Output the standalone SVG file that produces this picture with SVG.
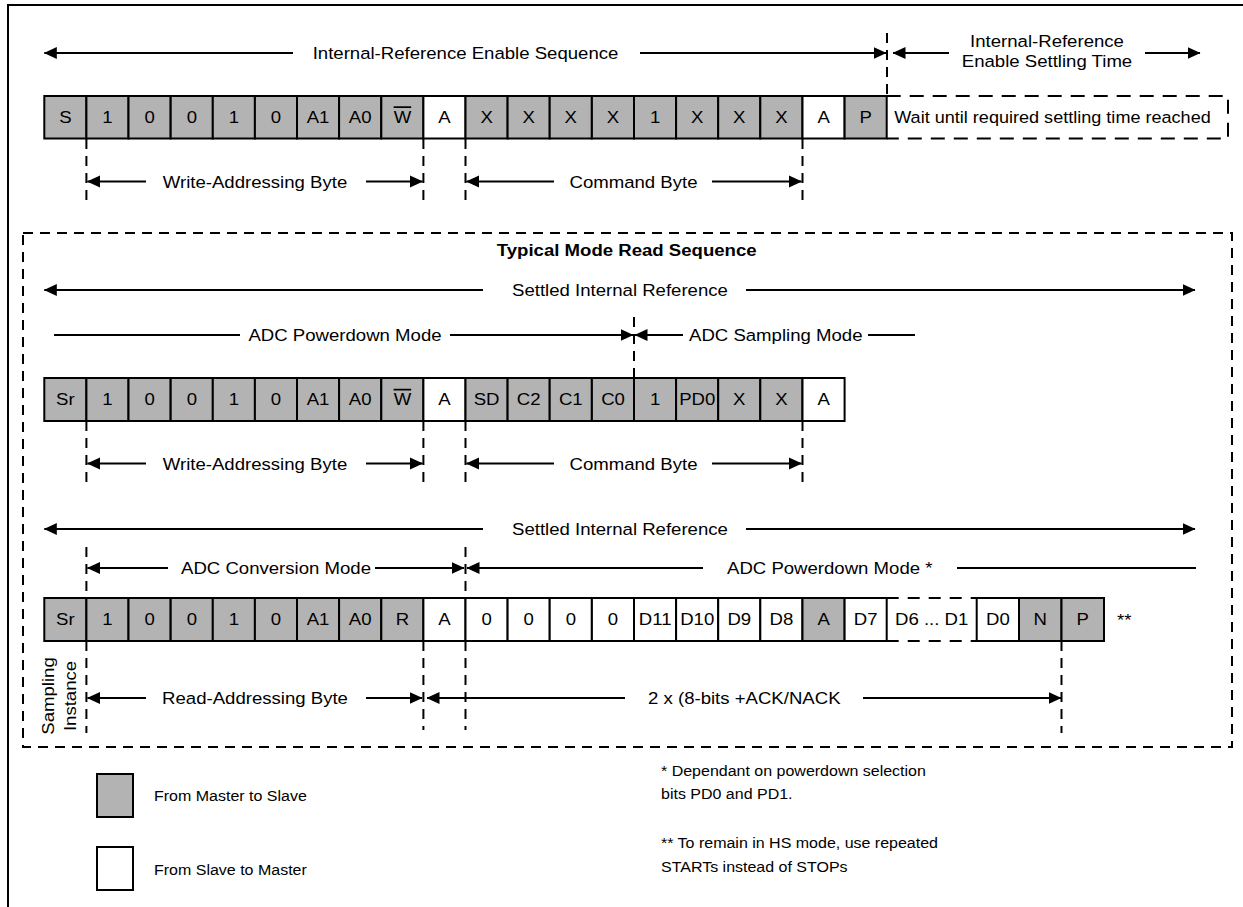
<svg xmlns="http://www.w3.org/2000/svg" width="1243" height="907" viewBox="0 0 1243 907">
<style>
.c{stroke:#000;stroke-width:2}
.g{fill:#b3b3b3}
.w{fill:#fff}
.ln{stroke:#000;stroke-width:2;fill:none}
.ds{stroke:#000;stroke-width:2;fill:none;stroke-dasharray:10 7}
.t{font-family:"Liberation Sans",Arial,Helvetica,sans-serif;font-size:17px;fill:#000}
.s{font-family:"Liberation Sans",Arial,Helvetica,sans-serif;font-size:15.3px;fill:#000}
.b{font-weight:bold}
.m{text-anchor:middle}
.ov{text-decoration:overline}
</style>
<defs>
<marker id="ah" viewBox="0 0 13 13" refX="12.5" refY="6.5" markerWidth="13" markerHeight="13" markerUnits="userSpaceOnUse" orient="auto-start-reverse"><path d="M0,0.5 L13,6.5 L0,12.5 z" fill="#000"/></marker>
</defs>
<rect x="0" y="0" width="1243" height="907" fill="#fff"/>
<rect id="frame" x="8" y="5" width="1250" height="915" class="ln"/>

<!-- Row 1 cells -->
<g id="row1">
<g id="r1-S"><rect x="44.3" y="96" width="42.1" height="42.5" class="c g"/><text class="t m" transform="translate(65.4,122.5) scale(1.094,1)">S</text></g>
<g id="r1-b1"><rect x="86.4" y="96" width="42.1" height="42.5" class="c g"/><text class="t m" transform="translate(107.5,122.5) scale(1.094,1)">1</text></g>
<g id="r1-b2"><rect x="128.5" y="96" width="42.1" height="42.5" class="c g"/><text class="t m" transform="translate(149.6,122.5) scale(1.094,1)">0</text></g>
<g id="r1-b3"><rect x="170.7" y="96" width="42.1" height="42.5" class="c g"/><text class="t m" transform="translate(191.8,122.5) scale(1.094,1)">0</text></g>
<g id="r1-b4"><rect x="212.8" y="96" width="42.1" height="42.5" class="c g"/><text class="t m" transform="translate(233.9,122.5) scale(1.094,1)">1</text></g>
<g id="r1-b5"><rect x="254.9" y="96" width="42.1" height="42.5" class="c g"/><text class="t m" transform="translate(276.0,122.5) scale(1.094,1)">0</text></g>
<g id="r1-A1"><rect x="297.0" y="96" width="42.1" height="42.5" class="c g"/><text class="t m" transform="translate(318.1,122.5) scale(1.094,1)">A1</text></g>
<g id="r1-A0"><rect x="339.1" y="96" width="42.1" height="42.5" class="c g"/><text class="t m" transform="translate(360.2,122.5) scale(1.094,1)">A0</text></g>
<g id="r1-W"><rect x="381.3" y="96" width="42.1" height="42.5" class="c g"/><text class="t m ov" transform="translate(402.4,122.5) scale(1.094,1)">W</text></g>
<g id="r1-A"><rect x="423.4" y="96" width="42.1" height="42.5" class="c w"/><text class="t m" transform="translate(444.5,122.5) scale(1.094,1)">A</text></g>
<g id="r1-x1"><rect x="465.5" y="96" width="42.1" height="42.5" class="c g"/><text class="t m" transform="translate(486.6,122.5) scale(1.094,1)">X</text></g>
<g id="r1-x2"><rect x="507.6" y="96" width="42.1" height="42.5" class="c g"/><text class="t m" transform="translate(528.7,122.5) scale(1.094,1)">X</text></g>
<g id="r1-x3"><rect x="549.7" y="96" width="42.1" height="42.5" class="c g"/><text class="t m" transform="translate(570.8,122.5) scale(1.094,1)">X</text></g>
<g id="r1-x4"><rect x="591.9" y="96" width="42.1" height="42.5" class="c g"/><text class="t m" transform="translate(613.0,122.5) scale(1.094,1)">X</text></g>
<g id="r1-one"><rect x="634.0" y="96" width="42.1" height="42.5" class="c g"/><text class="t m" transform="translate(655.1,122.5) scale(1.094,1)">1</text></g>
<g id="r1-x5"><rect x="676.1" y="96" width="42.1" height="42.5" class="c g"/><text class="t m" transform="translate(697.2,122.5) scale(1.094,1)">X</text></g>
<g id="r1-x6"><rect x="718.2" y="96" width="42.1" height="42.5" class="c g"/><text class="t m" transform="translate(739.3,122.5) scale(1.094,1)">X</text></g>
<g id="r1-x7"><rect x="760.3" y="96" width="42.1" height="42.5" class="c g"/><text class="t m" transform="translate(781.4,122.5) scale(1.094,1)">X</text></g>
<g id="r1-A2"><rect x="802.5" y="96" width="42.1" height="42.5" class="c w"/><text class="t m" transform="translate(823.6,122.5) scale(1.094,1)">A</text></g>
<g id="r1-P"><rect x="844.6" y="96" width="42.1" height="42.5" class="c g"/><text class="t m" transform="translate(865.7,122.5) scale(1.094,1)">P</text></g>
<g id="r1-wait"><path d="M886.7,96 H1228 V138.5 H886.7" class="ds" style="stroke-dasharray:14 9"/><text class="t m" transform="translate(1052.5,122.5) scale(1.063,1)">Wait until required settling time reached</text></g>
</g>

<!-- Read sequence box -->
<g id="readbox">
<rect x="23" y="233" width="1209" height="514" class="ds"/>
<text class="t b m" transform="translate(626.7,256) scale(1.094,1)">Typical Mode Read Sequence</text>
</g>

<!-- Row 2 cells -->
<g id="row2">
<g id="r2-Sr"><rect x="44.3" y="378" width="42.1" height="43" class="c g"/><text class="t m" transform="translate(65.4,405) scale(1.094,1)">Sr</text></g>
<g id="r2-b1"><rect x="86.4" y="378" width="42.1" height="43" class="c g"/><text class="t m" transform="translate(107.5,405) scale(1.094,1)">1</text></g>
<g id="r2-b2"><rect x="128.5" y="378" width="42.1" height="43" class="c g"/><text class="t m" transform="translate(149.6,405) scale(1.094,1)">0</text></g>
<g id="r2-b3"><rect x="170.7" y="378" width="42.1" height="43" class="c g"/><text class="t m" transform="translate(191.8,405) scale(1.094,1)">0</text></g>
<g id="r2-b4"><rect x="212.8" y="378" width="42.1" height="43" class="c g"/><text class="t m" transform="translate(233.9,405) scale(1.094,1)">1</text></g>
<g id="r2-b5"><rect x="254.9" y="378" width="42.1" height="43" class="c g"/><text class="t m" transform="translate(276.0,405) scale(1.094,1)">0</text></g>
<g id="r2-A1"><rect x="297.0" y="378" width="42.1" height="43" class="c g"/><text class="t m" transform="translate(318.1,405) scale(1.094,1)">A1</text></g>
<g id="r2-A0"><rect x="339.1" y="378" width="42.1" height="43" class="c g"/><text class="t m" transform="translate(360.2,405) scale(1.094,1)">A0</text></g>
<g id="r2-W"><rect x="381.3" y="378" width="42.1" height="43" class="c g"/><text class="t m ov" transform="translate(402.4,405) scale(1.094,1)">W</text></g>
<g id="r2-A"><rect x="423.4" y="378" width="42.1" height="43" class="c w"/><text class="t m" transform="translate(444.5,405) scale(1.094,1)">A</text></g>
<g id="r2-SD"><rect x="465.5" y="378" width="42.1" height="43" class="c g"/><text class="t m" transform="translate(486.6,405) scale(1.094,1)">SD</text></g>
<g id="r2-C2"><rect x="507.6" y="378" width="42.1" height="43" class="c g"/><text class="t m" transform="translate(528.7,405) scale(1.094,1)">C2</text></g>
<g id="r2-C1"><rect x="549.7" y="378" width="42.1" height="43" class="c g"/><text class="t m" transform="translate(570.8,405) scale(1.094,1)">C1</text></g>
<g id="r2-C0"><rect x="591.9" y="378" width="42.1" height="43" class="c g"/><text class="t m" transform="translate(613.0,405) scale(1.094,1)">C0</text></g>
<g id="r2-one"><rect x="634.0" y="378" width="42.1" height="43" class="c g"/><text class="t m" transform="translate(655.1,405) scale(1.094,1)">1</text></g>
<g id="r2-PD0"><rect x="676.1" y="378" width="42.1" height="43" class="c g"/><text class="t m" transform="translate(697.2,405) scale(1.094,1)">PD0</text></g>
<g id="r2-x1"><rect x="718.2" y="378" width="42.1" height="43" class="c g"/><text class="t m" transform="translate(739.3,405) scale(1.094,1)">X</text></g>
<g id="r2-x2"><rect x="760.3" y="378" width="42.1" height="43" class="c g"/><text class="t m" transform="translate(781.4,405) scale(1.094,1)">X</text></g>
<g id="r2-A2"><rect x="802.5" y="378" width="42.1" height="43" class="c w"/><text class="t m" transform="translate(823.6,405) scale(1.094,1)">A</text></g>
</g>

<!-- Row 3 cells -->
<g id="row3">
<g id="r3-Sr"><rect x="44.3" y="598" width="42.1" height="43" class="c g"/><text class="t m" transform="translate(65.4,625) scale(1.094,1)">Sr</text></g>
<g id="r3-b1"><rect x="86.4" y="598" width="42.1" height="43" class="c g"/><text class="t m" transform="translate(107.5,625) scale(1.094,1)">1</text></g>
<g id="r3-b2"><rect x="128.5" y="598" width="42.1" height="43" class="c g"/><text class="t m" transform="translate(149.6,625) scale(1.094,1)">0</text></g>
<g id="r3-b3"><rect x="170.7" y="598" width="42.1" height="43" class="c g"/><text class="t m" transform="translate(191.8,625) scale(1.094,1)">0</text></g>
<g id="r3-b4"><rect x="212.8" y="598" width="42.1" height="43" class="c g"/><text class="t m" transform="translate(233.9,625) scale(1.094,1)">1</text></g>
<g id="r3-b5"><rect x="254.9" y="598" width="42.1" height="43" class="c g"/><text class="t m" transform="translate(276.0,625) scale(1.094,1)">0</text></g>
<g id="r3-A1"><rect x="297.0" y="598" width="42.1" height="43" class="c g"/><text class="t m" transform="translate(318.1,625) scale(1.094,1)">A1</text></g>
<g id="r3-A0"><rect x="339.1" y="598" width="42.1" height="43" class="c g"/><text class="t m" transform="translate(360.2,625) scale(1.094,1)">A0</text></g>
<g id="r3-R"><rect x="381.3" y="598" width="42.1" height="43" class="c g"/><text class="t m" transform="translate(402.4,625) scale(1.094,1)">R</text></g>
<g id="r3-A"><rect x="423.4" y="598" width="42.1" height="43" class="c w"/><text class="t m" transform="translate(444.5,625) scale(1.094,1)">A</text></g>
<g id="r3-z1"><rect x="465.5" y="598" width="42.1" height="43" class="c w"/><text class="t m" transform="translate(486.6,625) scale(1.094,1)">0</text></g>
<g id="r3-z2"><rect x="507.6" y="598" width="42.1" height="43" class="c w"/><text class="t m" transform="translate(528.7,625) scale(1.094,1)">0</text></g>
<g id="r3-z3"><rect x="549.7" y="598" width="42.1" height="43" class="c w"/><text class="t m" transform="translate(570.8,625) scale(1.094,1)">0</text></g>
<g id="r3-z4"><rect x="591.9" y="598" width="42.1" height="43" class="c w"/><text class="t m" transform="translate(613.0,625) scale(1.094,1)">0</text></g>
<g id="r3-D11"><rect x="634.0" y="598" width="42.1" height="43" class="c w"/><text class="t m" transform="translate(655.1,625) scale(1.094,1)">D11</text></g>
<g id="r3-D10"><rect x="676.1" y="598" width="42.1" height="43" class="c w"/><text class="t m" transform="translate(697.2,625) scale(1.094,1)">D10</text></g>
<g id="r3-D9"><rect x="718.2" y="598" width="42.1" height="43" class="c w"/><text class="t m" transform="translate(739.3,625) scale(1.094,1)">D9</text></g>
<g id="r3-D8"><rect x="760.3" y="598" width="42.1" height="43" class="c w"/><text class="t m" transform="translate(781.4,625) scale(1.094,1)">D8</text></g>
<g id="r3-A2"><rect x="802.5" y="598" width="42.1" height="43" class="c g"/><text class="t m" transform="translate(823.6,625) scale(1.094,1)">A</text></g>
<g id="r3-D7"><rect x="844.6" y="598" width="42.1" height="43" class="c w"/><text class="t m" transform="translate(865.7,625) scale(1.094,1)">D7</text></g>
<g id="r3-D6D1"><path d="M886.7,598 H976.7 M886.7,641 H976.7" class="ds" style="stroke-dasharray:12 9"/><text class="t m" transform="translate(931.7,625) scale(1.094,1)">D6 ... D1</text></g>
<g id="r3-D0"><rect x="976.7" y="598" width="42.3" height="43" class="c w"/><text class="t m" transform="translate(997.9,625) scale(1.094,1)">D0</text></g>
<g id="r3-N"><rect x="1019" y="598" width="42.5" height="43" class="c g"/><text class="t m" transform="translate(1040.3,625) scale(1.094,1)">N</text></g>
<g id="r3-P"><rect x="1061.5" y="598" width="42.5" height="43" class="c g"/><text class="t m" transform="translate(1082.8,625) scale(1.094,1)">P</text></g>
<text id="r3-note" class="t" transform="translate(1117,625.5) scale(1.094,1)">**</text>
</g>

<!-- Connectors: arrows, dimension lines, guides -->
<g id="connectors">
<line x1="44.3" y1="53" x2="293" y2="53" class="ln" marker-start="url(#ah)"/>
<line x1="640" y1="53" x2="886" y2="53" class="ln" marker-end="url(#ah)"/>
<line x1="887" y1="33" x2="887" y2="96" class="ds"/>
<line x1="893" y1="53" x2="949" y2="53" class="ln" marker-start="url(#ah)"/>
<line x1="1145" y1="53" x2="1200" y2="53" class="ln" marker-end="url(#ah)"/>
<line x1="86.4" y1="139" x2="86.4" y2="201" class="ds"/>
<line x1="423.4" y1="139" x2="423.4" y2="201" class="ds"/>
<line x1="465.5" y1="139" x2="465.5" y2="201" class="ds"/>
<line x1="802.5" y1="139" x2="802.5" y2="201" class="ds"/>
<line x1="87.5" y1="181.5" x2="146" y2="181.5" class="ln" marker-start="url(#ah)"/>
<line x1="366" y1="181.5" x2="422.5" y2="181.5" class="ln" marker-end="url(#ah)"/>
<line x1="466.5" y1="181.5" x2="554" y2="181.5" class="ln" marker-start="url(#ah)"/>
<line x1="712" y1="181.5" x2="801.5" y2="181.5" class="ln" marker-end="url(#ah)"/>
<line x1="44.3" y1="290" x2="483" y2="290" class="ln" marker-start="url(#ah)"/>
<line x1="746" y1="290" x2="1195" y2="290" class="ln" marker-end="url(#ah)"/>
<line x1="54" y1="335" x2="240" y2="335" class="ln"/>
<line x1="450" y1="335" x2="633" y2="335" class="ln" marker-end="url(#ah)"/>
<line x1="634" y1="317" x2="634" y2="378" class="ds"/>
<line x1="635" y1="335" x2="683" y2="335" class="ln" marker-start="url(#ah)"/>
<line x1="868" y1="335" x2="915" y2="335" class="ln"/>
<line x1="86.4" y1="421" x2="86.4" y2="483" class="ds"/>
<line x1="423.4" y1="421" x2="423.4" y2="483" class="ds"/>
<line x1="465.5" y1="421" x2="465.5" y2="483" class="ds"/>
<line x1="802.5" y1="421" x2="802.5" y2="483" class="ds"/>
<line x1="87.5" y1="463.5" x2="146" y2="463.5" class="ln" marker-start="url(#ah)"/>
<line x1="366" y1="463.5" x2="422.5" y2="463.5" class="ln" marker-end="url(#ah)"/>
<line x1="466.5" y1="463.5" x2="554" y2="463.5" class="ln" marker-start="url(#ah)"/>
<line x1="712" y1="463.5" x2="801.5" y2="463.5" class="ln" marker-end="url(#ah)"/>
<line x1="44.3" y1="529" x2="483" y2="529" class="ln" marker-start="url(#ah)"/>
<line x1="746" y1="529" x2="1195" y2="529" class="ln" marker-end="url(#ah)"/>
<line x1="86.4" y1="547" x2="86.4" y2="598" class="ds"/>
<line x1="465.5" y1="547" x2="465.5" y2="598" class="ds"/>
<line x1="87.5" y1="568" x2="168" y2="568" class="ln" marker-start="url(#ah)"/>
<line x1="375" y1="568" x2="464" y2="568" class="ln" marker-end="url(#ah)"/>
<line x1="467" y1="568" x2="703" y2="568" class="ln" marker-start="url(#ah)"/>
<line x1="957" y1="568" x2="1196" y2="568" class="ln"/>
<line x1="86.4" y1="641" x2="86.4" y2="733" class="ds"/>
<line x1="423.4" y1="641" x2="423.4" y2="730" class="ds"/>
<line x1="465.5" y1="641" x2="465.5" y2="730" class="ds"/>
<line x1="1061.5" y1="641" x2="1061.5" y2="733" class="ds"/>
<line x1="87.5" y1="698" x2="146" y2="698" class="ln" marker-start="url(#ah)"/>
<line x1="366" y1="698" x2="422" y2="698" class="ln" marker-end="url(#ah)"/>
<line x1="427" y1="698" x2="625" y2="698" class="ln" marker-start="url(#ah)"/>
<line x1="863" y1="698" x2="1061" y2="698" class="ln" marker-end="url(#ah)"/>
</g>

<!-- Labels -->
<g id="labels">
<text class="t m" transform="translate(465.5,58.5) scale(1.094,1)">Internal-Reference Enable Sequence</text>
<text class="t m" transform="translate(1047,46.5) scale(1.094,1)">Internal-Reference</text>
<text class="t m" transform="translate(1047,67) scale(1.094,1)">Enable Settling Time</text>
<text class="t m" transform="translate(255,187.5) scale(1.094,1)">Write-Addressing Byte</text>
<text class="t m" transform="translate(633.5,187.5) scale(1.094,1)">Command Byte</text>
<text class="t m" transform="translate(620,296) scale(1.094,1)">Settled Internal Reference</text>
<text class="t m" transform="translate(345,341) scale(1.094,1)">ADC Powerdown Mode</text>
<text class="t" transform="translate(689,341) scale(1.094,1)">ADC Sampling Mode</text>
<text class="t m" transform="translate(255,469.5) scale(1.094,1)">Write-Addressing Byte</text>
<text class="t m" transform="translate(633.5,469.5) scale(1.094,1)">Command Byte</text>
<text class="t m" transform="translate(620,535) scale(1.094,1)">Settled Internal Reference</text>
<text class="t m" transform="translate(276,574) scale(1.094,1)">ADC Conversion Mode</text>
<text class="t" transform="translate(727,574) scale(1.094,1)">ADC Powerdown Mode *</text>
<text class="t m" transform="translate(255,704) scale(1.094,1)">Read-Addressing Byte</text>
<text class="t" transform="translate(648,704) scale(1.094,1)">2 x (8-bits +ACK/NACK</text>
<text class="t m" transform="translate(53.5,696) rotate(-90) scale(1.094,1)">Sampling</text>
<text class="t m" transform="translate(76,696) rotate(-90) scale(1.094,1)">Instance</text>
</g>

<!-- Legend -->
<g id="legend-master">
<rect x="97" y="774" width="36" height="43" class="c g"/>
<text class="s" transform="translate(154,801) scale(1.046,1)">From Master to Slave</text>
</g>
<g id="legend-slave">
<rect x="97" y="847" width="36" height="43" class="c w"/>
<text class="s" transform="translate(154,874.5) scale(1.046,1)">From Slave to Master</text>
</g>
<g id="notes">
<text class="s" transform="translate(661,776) scale(1.046,1)">* Dependant on powerdown selection</text>
<text class="s" transform="translate(661,799) scale(1.046,1)">bits PD0 and PD1.</text>
<text class="s" transform="translate(661,848) scale(1.046,1)">** To remain in HS mode, use repeated</text>
<text class="s" transform="translate(661,871.5) scale(1.046,1)">STARTs instead of STOPs</text>
</g>
</svg>
